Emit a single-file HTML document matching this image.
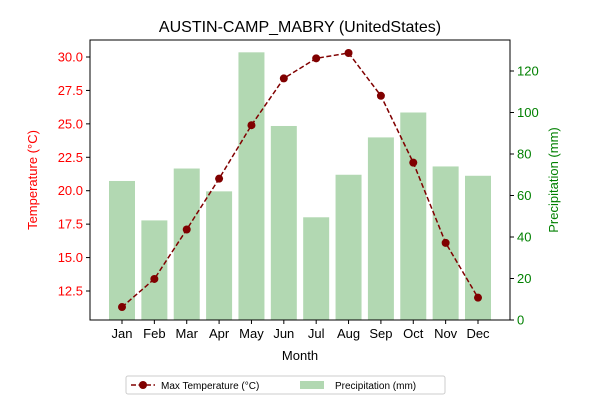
<!DOCTYPE html>
<html><head><meta charset="utf-8"><style>
body{margin:0;background:#fff;font-family:"Liberation Sans","DejaVu Sans",sans-serif}
</style></head><body>
<svg id="c" width="600" height="400" xmlns="http://www.w3.org/2000/svg">
<rect width="600" height="400" fill="#fff"/>
<text x="300" y="32" font-size="16" text-anchor="middle">AUSTIN-CAMP_MABRY (UnitedStates)</text>
<g id="bars"></g><g id="line"></g><g id="axes"></g>
<g>
<rect x="126" y="376" width="319" height="18" fill="#fff" stroke="#ccc" rx="2"/>
<line x1="131" y1="385" x2="155" y2="385" stroke="#800000" stroke-width="1.5" stroke-dasharray="5,2.5"/>
<circle cx="143" cy="385" r="4" fill="#800000"/>
<text x="161" y="389" font-size="10">Max Temperature (°C)</text>
<rect x="300" y="381" width="24" height="8" fill="#b2d8b2"/>
<text x="335" y="389" font-size="10">Precipitation (mm)</text>
</g>
</svg>
<script>
const months=["Jan","Feb","Mar","Apr","May","Jun","Jul","Aug","Sep","Oct","Nov","Dec"];
const temps=[11.3,13.4,17.1,20.9,24.9,28.4,29.9,30.3,27.1,22.1,16.1,12.0];
const precip=[67,48,73,62,129,93.5,49.5,70,88,100,74,69.5];
const tempTicks=[12.5,15.0,17.5,20.0,22.5,25.0,27.5,30.0];
const precipTicks=[0,20,40,60,80,100,120];
const L=90,R=510,T=40,B=320;
const xs=i=>122+i*(478-122)/11;
const yT=v=>57+(30-v)*(291-57)/17.5;
const yP=v=>320-v*(320-71)/120;
const NS="http://www.w3.org/2000/svg";
function mk(tag,attrs,parent,txt){const e=document.createElementNS(NS,tag);for(const k in attrs)e.setAttribute(k,attrs[k]);if(txt!==undefined)e.textContent=txt;parent.appendChild(e);return e;}
const gb=document.getElementById('bars'),gl=document.getElementById('line'),ga=document.getElementById('axes');
const bw=26;
precip.forEach((v,i)=>{const r=mk('rect',{x:xs(i)-bw/2,y:yP(v),width:bw,height:B-yP(v),fill:'#b2d8b2'},gb);

});
const pts=temps.map((v,i)=>xs(i)+','+yT(v)).join(' ');
const pl=mk('polyline',{points:pts,fill:'none',stroke:'#800000','stroke-width':1.5,'stroke-dasharray':'5,2.5'},gl);


temps.forEach((v,i)=>{const c=mk('circle',{cx:xs(i),cy:yT(v),r:4,fill:'#800000'},gl);

});
mk('rect',{x:L,y:T,width:R-L,height:B-T,fill:'none',stroke:'#000','stroke-width':1},ga);
months.forEach((m,i)=>{mk('line',{x1:xs(i),y1:B,x2:xs(i),y2:B+4,stroke:'#000'},ga);
const t=mk('text',{x:xs(i),y:B+18,'font-size':13,'text-anchor':'middle'},ga,m);

});
tempTicks.forEach(v=>{mk('line',{x1:L-4,y1:yT(v),x2:L,y2:yT(v),stroke:'#000'},ga);
const t=mk('text',{x:L-7,y:yT(v)+4.5,'font-size':13,'text-anchor':'end',fill:'red'},ga,v.toFixed(1));

});
precipTicks.forEach(v=>{mk('line',{x1:R,y1:yP(v),x2:R+4,y2:yP(v),stroke:'#000'},ga);
const t=mk('text',{x:R+7,y:yP(v)+4.5,'font-size':13,fill:'green'},ga,v);

});
let t=mk('text',{x:300,y:360,'font-size':13,'text-anchor':'middle'},ga,'Month');


t=mk('text',{x:37,y:180,'font-size':13,'text-anchor':'middle',fill:'red',transform:'rotate(-90 37 180)'},ga,'Temperature (°C)');


t=mk('text',{x:558,y:180,'font-size':13,'text-anchor':'middle',fill:'green',transform:'rotate(-90 558 180)'},ga,'Precipitation (mm)');


</script>
</body></html>
